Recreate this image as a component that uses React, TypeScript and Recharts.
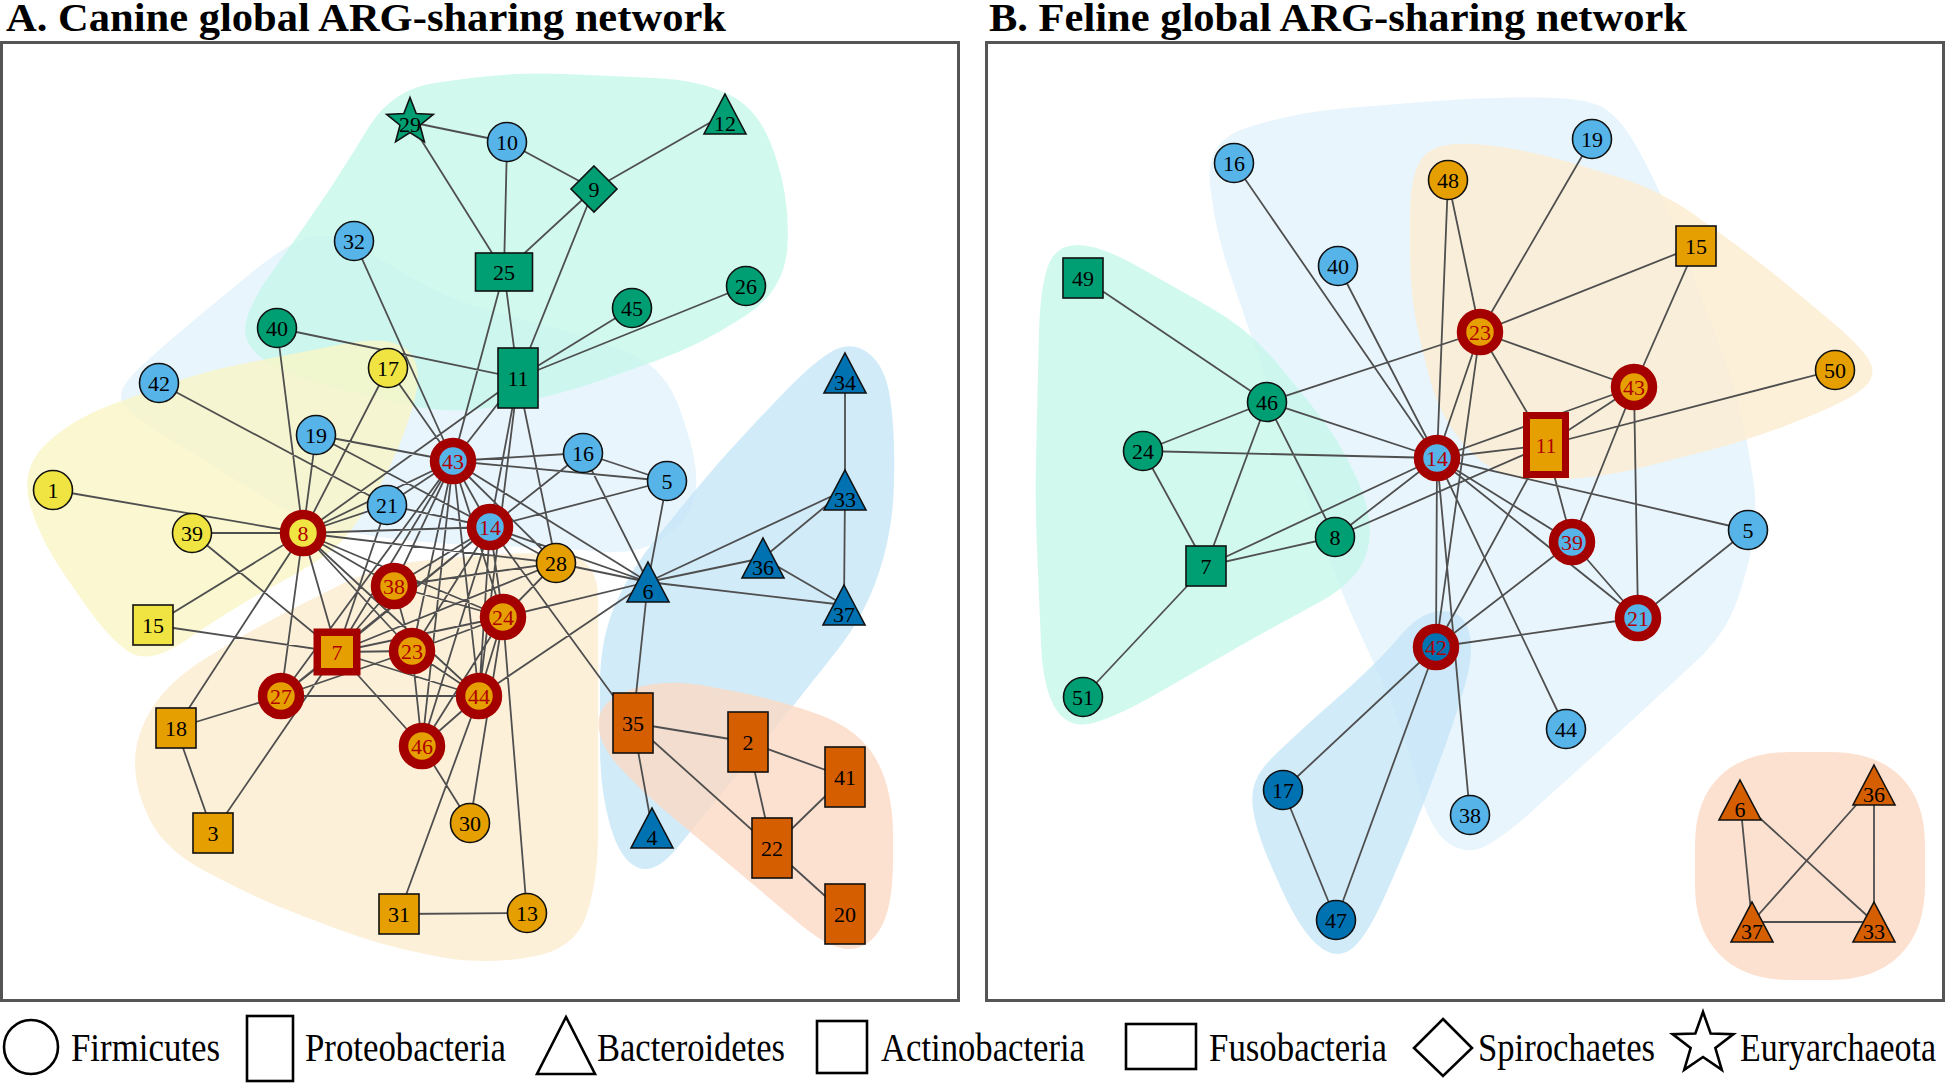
import React from "react";
import { ScatterChart, Scatter, XAxis, YAxis } from "recharts";

// node rows: id, x, y, phylum, module, hub (1 = highlighted)
type NodeRow = [string, number, number, string, string, number];

const canineNodes: NodeRow[] = [
  ["1", 53, 490, "Firmicutes", "yellow", 0],
  ["39", 192, 533, "Firmicutes", "yellow", 0],
  ["8", 303, 533, "Firmicutes", "yellow", 1],
  ["15", 153, 625, "Actinobacteria", "yellow", 0],
  ["17", 388, 368, "Firmicutes", "yellow", 0],
  ["42", 159, 383, "Firmicutes", "sky", 0],
  ["19", 316, 435, "Firmicutes", "sky", 0],
  ["21", 387, 505, "Firmicutes", "sky", 0],
  ["43", 453, 461, "Firmicutes", "sky", 1],
  ["14", 490, 527, "Firmicutes", "sky", 1],
  ["16", 583, 453, "Firmicutes", "sky", 0],
  ["5", 667, 481, "Firmicutes", "sky", 0],
  ["32", 354, 241, "Firmicutes", "sky", 0],
  ["10", 507, 142, "Firmicutes", "sky", 0],
  ["40", 277, 328, "Firmicutes", "green", 0],
  ["29", 410, 122, "Euryarchaeota", "green", 0],
  ["9", 594, 189, "Spirochaetes", "green", 0],
  ["12", 725, 114, "Bacteroidetes", "green", 0],
  ["25", 504, 272, "Fusobacteria", "green", 0],
  ["11", 518, 378, "Proteobacteria", "green", 0],
  ["45", 632, 308, "Firmicutes", "green", 0],
  ["26", 746, 286, "Firmicutes", "green", 0],
  ["28", 556, 563, "Firmicutes", "orange", 0],
  ["38", 394, 586, "Firmicutes", "orange", 1],
  ["24", 503, 617, "Firmicutes", "orange", 1],
  ["7", 337, 652, "Actinobacteria", "orange", 1],
  ["23", 412, 651, "Firmicutes", "orange", 1],
  ["27", 281, 696, "Firmicutes", "orange", 1],
  ["44", 479, 696, "Firmicutes", "orange", 1],
  ["46", 422, 746, "Firmicutes", "orange", 1],
  ["18", 176, 728, "Actinobacteria", "orange", 0],
  ["3", 213, 833, "Actinobacteria", "orange", 0],
  ["30", 470, 823, "Firmicutes", "orange", 0],
  ["31", 399, 914, "Actinobacteria", "orange", 0],
  ["13", 527, 913, "Firmicutes", "orange", 0],
  ["6", 648, 582, "Bacteroidetes", "navy", 0],
  ["36", 763, 558, "Bacteroidetes", "navy", 0],
  ["34", 845, 373, "Bacteroidetes", "navy", 0],
  ["33", 845, 490, "Bacteroidetes", "navy", 0],
  ["37", 844, 605, "Bacteroidetes", "navy", 0],
  ["4", 652, 828, "Bacteroidetes", "navy", 0],
  ["35", 633, 723, "Proteobacteria", "red", 0],
  ["2", 748, 742, "Proteobacteria", "red", 0],
  ["41", 845, 777, "Proteobacteria", "red", 0],
  ["22", 772, 848, "Proteobacteria", "red", 0],
  ["20", 845, 914, "Proteobacteria", "red", 0],
];

const canineEdges = [
  "29-10", "29-25", "10-25", "10-9", "9-12", "9-25", "9-11", "25-11", "25-43",
  "11-45", "11-26", "11-40", "11-8", "11-43", "11-14", "11-44", "11-28",
  "32-43", "17-43", "17-8", "40-8", "42-21", "1-8", "39-8", "39-7", "15-8", "15-7",
  "19-8", "19-43", "19-14", "21-43", "21-14", "21-8", "21-7",
  "43-14", "43-8", "43-16", "43-5", "43-6", "43-28", "43-24", "43-44", "43-23",
  "43-7", "43-38", "43-27", "43-46",
  "14-8", "14-16", "14-5", "14-28", "14-6", "14-24", "14-44", "14-23", "14-7",
  "14-38", "14-27", "14-46", "14-35",
  "8-28", "8-24", "8-38", "8-23", "8-7", "8-27", "8-18", "8-44",
  "16-5", "16-6", "5-6", "28-6", "28-24", "28-7", "28-38",
  "6-24", "6-44", "6-35", "6-36", "6-33", "6-37", "36-33", "36-37", "33-37", "34-33",
  "7-3", "7-27", "7-46", "7-44", "7-23", "7-38", "7-24",
  "27-18", "27-44", "27-23", "18-3", "23-24", "23-44", "23-46", "23-38", "38-24",
  "46-24", "46-44", "46-30", "44-24", "44-31", "24-30", "24-13", "31-13",
  "35-2", "35-22", "35-4", "2-41", "2-22", "22-41", "22-20",
];

const canineHulls: [string, number[][]][] = [
  ["sky", [[115, 390], [170, 340], [285, 245], [330, 230], [450, 300], [600, 340], [667, 370], [700, 470], [690, 520], [640, 555], [560, 548], [450, 545], [360, 535], [300, 520], [220, 470], [130, 415]]],
  ["green", [[393, 88], [520, 72], [700, 80], [760, 110], [790, 200], [785, 290], [700, 345], [560, 395], [450, 415], [300, 380], [245, 350], [245, 310], [330, 190]]],
  ["yellow", [[20, 470], [70, 420], [200, 372], [390, 335], [425, 365], [400, 450], [360, 520], [330, 555], [230, 610], [150, 665], [110, 640], [40, 540]]],
  ["orange", [[135, 735], [170, 680], [260, 625], [380, 565], [500, 553], [598, 553], [598, 880], [575, 950], [480, 965], [380, 945], [260, 900], [165, 850], [135, 790]]],
  ["navy", [[850, 340], [885, 365], [895, 430], [893, 530], [865, 615], [790, 710], [700, 820], [655, 875], [620, 860], [600, 790], [600, 640], [630, 570], [720, 460], [810, 365]]],
  ["red", [[600, 700], [665, 678], [780, 700], [860, 730], [893, 790], [893, 905], [870, 948], [830, 950], [760, 890], [640, 790], [597, 742]]],
];

const felineNodes: NodeRow[] = [
  ["16", 1234, 163, "Firmicutes", "sky", 0],
  ["19", 1592, 139, "Firmicutes", "sky", 0],
  ["40", 1338, 266, "Firmicutes", "sky", 0],
  ["14", 1437, 458, "Firmicutes", "sky", 1],
  ["39", 1572, 542, "Firmicutes", "sky", 1],
  ["21", 1638, 618, "Firmicutes", "sky", 1],
  ["5", 1748, 530, "Firmicutes", "sky", 0],
  ["44", 1566, 729, "Firmicutes", "sky", 0],
  ["38", 1470, 815, "Firmicutes", "sky", 0],
  ["48", 1448, 180, "Firmicutes", "orange", 0],
  ["23", 1480, 332, "Firmicutes", "orange", 1],
  ["15", 1696, 246, "Actinobacteria", "orange", 0],
  ["43", 1634, 387, "Firmicutes", "orange", 1],
  ["11", 1546, 445, "Proteobacteria", "orange", 1],
  ["50", 1835, 370, "Firmicutes", "orange", 0],
  ["49", 1083, 278, "Actinobacteria", "green", 0],
  ["46", 1267, 402, "Firmicutes", "green", 0],
  ["24", 1143, 451, "Firmicutes", "green", 0],
  ["8", 1335, 537, "Firmicutes", "green", 0],
  ["7", 1206, 566, "Actinobacteria", "green", 0],
  ["51", 1083, 697, "Firmicutes", "green", 0],
  ["42", 1436, 647, "Firmicutes", "navy", 1],
  ["17", 1283, 790, "Firmicutes", "navy", 0],
  ["47", 1336, 920, "Firmicutes", "navy", 0],
  ["6", 1740, 800, "Bacteroidetes", "red", 0],
  ["36", 1874, 785, "Bacteroidetes", "red", 0],
  ["37", 1752, 922, "Bacteroidetes", "red", 0],
  ["33", 1874, 922, "Bacteroidetes", "red", 0],
];

const felineEdges = [
  "49-46", "46-24", "46-7", "46-8", "46-14", "46-23", "24-14", "24-7",
  "7-8", "7-51", "7-14", "8-14", "8-11", "16-14", "40-14", "48-14", "48-23",
  "19-23", "15-23", "15-43", "23-14", "23-42", "23-11", "23-43",
  "43-14", "43-11", "43-39", "43-21", "11-50", "11-14", "11-42", "11-39",
  "14-39", "14-21", "14-5", "14-44", "14-38", "14-42",
  "42-39", "42-21", "42-17", "42-47", "17-47", "5-21", "39-21",
  "36-33", "36-37", "6-37", "6-33", "37-33",
];

const felineHulls: [string, number[][]][] = [
  ["sky", [[1205, 140], [1300, 112], [1470, 98], [1580, 97], [1620, 115], [1665, 200], [1740, 400], [1760, 520], [1730, 630], [1600, 750], [1500, 840], [1465, 855], [1430, 830], [1400, 720], [1340, 590], [1280, 420], [1215, 230]]],
  ["orange", [[1410, 170], [1440, 140], [1530, 150], [1660, 190], [1760, 262], [1860, 345], [1878, 375], [1850, 400], [1750, 440], [1600, 478], [1500, 482], [1440, 420], [1410, 300]]],
  ["green", [[1055, 245], [1100, 245], [1250, 330], [1340, 440], [1375, 520], [1360, 580], [1250, 640], [1120, 715], [1070, 730], [1043, 690], [1035, 500], [1040, 290]]],
  ["navy", [[1420, 612], [1462, 610], [1475, 650], [1455, 720], [1410, 840], [1365, 940], [1335, 960], [1300, 930], [1255, 830], [1250, 780], [1290, 740], [1380, 660]]],
  ["red", [[1695, 800], [1745, 752], [1875, 752], [1925, 800], [1925, 930], [1875, 980], [1745, 980], [1695, 930]]],
];

const legendLabels = ["Firmicutes", "Proteobacteria", "Bacteroidetes", "Actinobacteria", "Fusobacteria", "Spirochaetes", "Euryarchaeota"];

const MODULE_FILL: Record<string, string> = {
  sky: "#56b4e9", navy: "#0072b2", green: "#009e73",
  yellow: "#f0e442", orange: "#e69f00", red: "#d55e00",
};
const HULL_FILL: Record<string, string> = {
  sky: "#e2f3fc", navy: "#c6e6f8", green: "#c6f8ea",
  yellow: "#f9f5c6", orange: "#fdecd0", red: "#fbdac4",
};
const RING = "#a50000";
const SERIF = "'Liberation Serif', 'Times New Roman', serif";

const rounded = (pts: { x: number; y: number }[], r = 45) => {
  const n = pts.length;
  let d = "";
  for (let i = 0; i < n; i++) {
    const p = pts[i], a = pts[(i - 1 + n) % n], b = pts[(i + 1) % n];
    const ta = Math.min(r / Math.hypot(a.x - p.x, a.y - p.y), 0.5);
    const tb = Math.min(r / Math.hypot(b.x - p.x, b.y - p.y), 0.5);
    const sx = p.x + (a.x - p.x) * ta, sy = p.y + (a.y - p.y) * ta;
    const ex = p.x + (b.x - p.x) * tb, ey = p.y + (b.y - p.y) * tb;
    d += `${i === 0 ? "M" : "L"}${sx},${sy}Q${p.x},${p.y} ${ex},${ey}`;
  }
  return d + "Z";
};

const segments = (pts: { x: number; y: number }[]) => {
  let d = "";
  for (let i = 0; i + 1 < pts.length; i += 2) {
    d += `M${pts[i].x},${pts[i].y}L${pts[i + 1].x},${pts[i + 1].y}`;
  }
  return d;
};

const starPoints = (cx: number, cy: number, R: number, r: number) =>
  Array.from({ length: 10 }, (_, i) => {
    const ang = -Math.PI / 2 + (i * Math.PI) / 5;
    const rad = i % 2 === 0 ? R : r;
    return `${cx + rad * Math.cos(ang)},${cy + rad * Math.sin(ang)}`;
  }).join(" ");

const NodeShape = (props: any) => {
  const { cx, cy, payload } = props;
  const { id, phylum, module, hub } = payload;
  const fill = MODULE_FILL[module];
  const stroke = hub ? RING : "#111";
  let body: React.ReactNode = null;
  let ty = cy;
  if (phylum === "Firmicutes") {
    body = hub
      ? <circle cx={cx} cy={cy} r={18.5} fill={fill} stroke={stroke} strokeWidth={9.5} />
      : <circle cx={cx} cy={cy} r={19.5} fill={fill} stroke={stroke} strokeWidth={1.6} />;
  } else if (phylum === "Proteobacteria") {
    body = hub
      ? <rect x={cx - 19.5} y={cy - 29.5} width={39} height={59} fill={fill} stroke={stroke} strokeWidth={7} />
      : <rect x={cx - 20} y={cy - 30} width={40} height={60} fill={fill} stroke={stroke} strokeWidth={1.6} />;
  } else if (phylum === "Actinobacteria") {
    body = hub
      ? <rect x={cx - 19.75} y={cy - 19.75} width={39.5} height={39.5} fill={fill} stroke={stroke} strokeWidth={7.5} />
      : <rect x={cx - 20} y={cy - 20} width={40} height={40} fill={fill} stroke={stroke} strokeWidth={1.6} />;
  } else if (phylum === "Fusobacteria") {
    body = <rect x={cx - 28.5} y={cy - 19} width={57} height={38} fill={fill} stroke={stroke} strokeWidth={1.6} />;
  } else if (phylum === "Bacteroidetes") {
    body = <polygon points={`${cx},${cy - 20} ${cx + 21},${cy + 20} ${cx - 21},${cy + 20}`} fill={fill} stroke={stroke} strokeWidth={1.6} />;
    ty = cy + 9;
  } else if (phylum === "Spirochaetes") {
    body = <polygon points={`${cx},${cy - 23} ${cx + 23},${cy} ${cx},${cy + 23} ${cx - 23},${cy}`} fill={fill} stroke={stroke} strokeWidth={1.6} />;
  } else {
    body = <polygon points={starPoints(cx, cy, 24.5, 10.5)} fill={fill} stroke={stroke} strokeWidth={1.6} />;
    ty = cy + 2;
  }
  return (
    <g>
      {body}
      <text x={cx} y={ty} dy="0.35em" textAnchor="middle" fontSize={22} fontFamily={SERIF} fill={hub ? "#b00000" : "#000"}>
        {id}
      </text>
    </g>
  );
};

const Network = ({ nodes, edges, hulls, left }: { nodes: NodeRow[]; edges: string[]; hulls: [string, number[][]][]; left: number }) => {
  const nodeData = nodes.map(([id, x, y, phylum, module, hub]) => ({ id, x, y, phylum, module, hub }));
  const byId: Record<string, { x: number; y: number }> = {};
  nodeData.forEach((n) => (byId[n.id] = n));
  const edgeData = edges.flatMap((e) => {
    const [a, b] = e.split("-");
    return [{ x: byId[a].x, y: byId[a].y }, { x: byId[b].x, y: byId[b].y }];
  });
  const x0 = left + 3;
  return (
    <div style={{ position: "absolute", left, top: 41, border: "3px solid #555", background: "#fff" }}>
      <ScatterChart width={954} height={955} margin={{ top: 0, right: 0, bottom: 0, left: 0 }}>
        <XAxis type="number" dataKey="x" domain={[x0, x0 + 954]} hide allowDataOverflow />
        <YAxis type="number" dataKey="y" domain={[44, 999]} reversed hide allowDataOverflow />
        {hulls.map(([module, pts], i) => (
          <Scatter
            key={`hull-${i}`}
            data={pts.map(([x, y]) => ({ x, y }))}
            isAnimationActive={false}
            shape={() => <g />}
            line={(p: any) => <path d={rounded(p.points)} fill={HULL_FILL[module]} fillOpacity={0.8} stroke="none" />}
          />
        ))}
        <Scatter
          data={edgeData}
          isAnimationActive={false}
          shape={() => <g />}
          line={(p: any) => <path d={segments(p.points)} stroke="#4f4f4f" strokeWidth={1.8} fill="none" />}
        />
        <Scatter data={nodeData} isAnimationActive={false} shape={NodeShape} />
      </ScatterChart>
    </div>
  );
};

const Legend = () => {
  const sw = 2.6;
  const textX = [71, 305, 597, 881, 1209, 1478, 1740];
  const textW = [149, 201, 188, 204, 178, 177, 196];
  return (
    <g fill="none" stroke="#000" strokeWidth={sw}>
      <circle cx={31} cy={1047} r={27} />
      <rect x={247} y={1016} width={46} height={65} />
      <polygon points="566,1017 537,1074 595,1074" />
      <rect x={817} y={1021} width={50} height={52} />
      <rect x={1126} y={1024} width={70} height={45} />
      <polygon points="1443,1019 1472,1048 1443,1076 1414,1048" />
      <polygon points={starPoints(1703, 1044, 32, 13)} />
      {legendLabels.map((l, i) => (
        <text key={l} x={textX[i]} y={1061} fontSize={40} fontFamily={SERIF} fill="#000" stroke="none"
          textLength={textW[i]} lengthAdjust="spacingAndGlyphs">
          {l}
        </text>
      ))}
    </g>
  );
};

export default function App() {
  return (
    <div style={{ position: "relative", width: 1945, height: 1084, background: "#fff", overflow: "hidden" }}>
      <style>{"body{margin:0}"}</style>
      <svg width={1945} height={1084} style={{ position: "absolute", left: 0, top: 0 }}>
        <text x={6} y={31} fontSize={40} fontWeight="bold" fontFamily={SERIF} textLength={720} lengthAdjust="spacingAndGlyphs">
          A. Canine global ARG-sharing network
        </text>
        <text x={989} y={31} fontSize={40} fontWeight="bold" fontFamily={SERIF} textLength={698} lengthAdjust="spacingAndGlyphs">
          B. Feline global ARG-sharing network
        </text>
        <Legend />
      </svg>
      <Network nodes={canineNodes} edges={canineEdges} hulls={canineHulls} left={0} />
      <Network nodes={felineNodes} edges={felineEdges} hulls={felineHulls} left={985} />
    </div>
  );
}
